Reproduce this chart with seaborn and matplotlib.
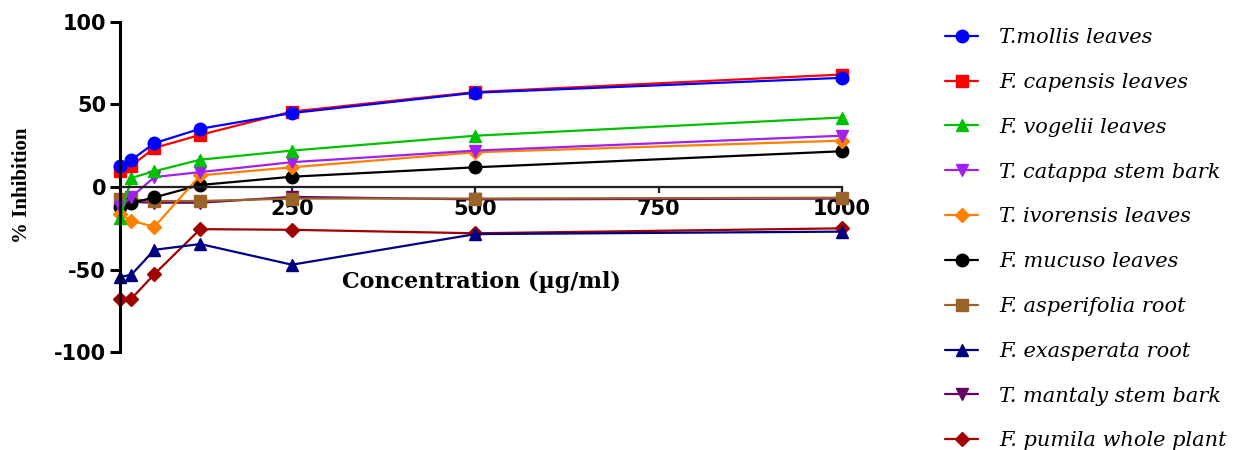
import numpy as np
import pandas as pd
import seaborn as sns
import matplotlib.pyplot as plt

# concentrations (ug/ml)
conc = [15.625, 31.25, 62.5, 125, 250, 500, 1000]

names = [
    "T.mollis leaves",
    "F. capensis leaves",
    "F. vogelii leaves",
    "T. catappa stem bark",
    "T. ivorensis leaves",
    "F. mucuso leaves",
    "F. asperifolia root",
    "F. exasperata root",
    "T. mantaly stem bark",
    "F. pumila whole plant",
]

mollis = [12.5, 16.4, 26.5, 35.2, 44.7, 57.0, 66.0]
capensis = [9.9, 12.9, 23.6, 31.5, 45.6, 57.4, 68.0]
vogelii = [-19.0, 5.5, 9.5, 16.5, 22.0, 31.0, 42.0]
catappa = [-12.0, -6.0, 6.0, 9.0, 15.0, 22.0, 31.0]
ivorensis = [-16.4, -20.4, -24.1, 7.0, 11.9, 21.0, 28.0]
mucuso = [-12.3, -9.7, -6.3, 1.2, 6.2, 11.9, 21.6]
asperifolia = [-7.0, -7.5, -8.5, -8.5, -7.0, -7.0, -6.5]
exasperata = [-54.5, -53.0, -38.0, -34.5, -47.0, -28.5, -27.0]
mantaly = [-8.0, -9.0, -9.5, -9.5, -6.0, -7.5, -7.0]
pumila = [-67.9, -67.5, -52.7, -25.5, -25.9, -28.0, -25.0]

values = [mollis, capensis, vogelii, catappa, ivorensis,
          mucuso, asperifolia, exasperata, mantaly, pumila]

colors = ["#0000ff", "#ff0000", "#00c000", "#a020f0", "#ff8000",
          "#000000", "#99632a", "#000080", "#660066", "#a00000"]
markers = ["o", "s", "^", "v", "D", "o", "s", "^", "v", "D"]
msizes = [9, 9, 9, 9, 7, 9, 9, 9, 9, 7]

df = pd.DataFrame({
    "conc": np.tile(conc, len(names)),
    "val": np.concatenate(values),
    "name": np.repeat(names, len(conc)),
})

sns.set_style("white")
plt.rcParams["axes.unicode_minus"] = False
plt.rcParams["text.color"] = "black"
fig = plt.figure(figsize=(12.58, 4.5), dpi=100)
ax = fig.add_axes([0.0954, 0.217, 0.5739, 0.735])

# last series drawn first so the first ones sit on top
for i in reversed(range(len(names))):
    sub = df[df["name"] == names[i]]
    sns.lineplot(data=sub, x="conc", y="val", ax=ax, color=colors[i],
                 marker=markers[i], markersize=msizes[i],
                 markeredgecolor=colors[i], markeredgewidth=1,
                 linewidth=1.6, label=names[i], clip_on=False)

ax.set_xlim(15.625, 1000)
ax.set_ylim(-100, 100)
ax.set_xticks([250, 500, 750, 1000])
ax.set_yticks([-100, -50, 0, 50, 100])
ax.set_xlabel("")
ax.set_ylabel("")

ax.spines["right"].set_visible(False)
ax.spines["top"].set_visible(False)
ax.spines["bottom"].set_position(("data", 0))
ax.spines["bottom"].set_color("#202020")
ax.spines["bottom"].set_linewidth(1.6)
ax.spines["left"].set_color("black")
ax.spines["left"].set_linewidth(2.2)

ax.tick_params(axis="y", direction="out", length=7, width=2.2, pad=3,
               left=True, labelcolor="black", color="black")
ax.tick_params(axis="x", direction="out", length=4, width=1.6, pad=5,
               bottom=True, color="#202020", labelcolor="black")
for lab in ax.get_xticklabels() + ax.get_yticklabels():
    lab.set_fontfamily("DejaVu Sans")
    lab.set_fontweight("bold")
    lab.set_fontsize(15)

fig.text(22 / 1258, 1 - 185 / 450, "% Inhibition", rotation=90,
         ha="center", va="center", family="Liberation Serif",
         fontweight="bold", fontsize=15, color="black")
fig.text(481 / 1258, 1 - 282 / 450, "Concentration (\u00b5g/ml)",
         ha="center", va="center", family="DejaVu Serif",
         fontweight="bold", fontsize=16, color="black")

handles, labels = ax.get_legend_handles_labels()
ax.get_legend().remove()
handles = handles[::-1]
labels = labels[::-1]
fig.legend(handles, labels, loc="upper left",
           bbox_to_anchor=(945 / 1258, 1 - 28 / 450),
           frameon=False, borderaxespad=0, borderpad=0,
           handlelength=1.6, handletextpad=1.0, labelspacing=1.24,
           prop={"family": "DejaVu Serif", "style": "italic", "size": 15})

fig.savefig("out.png", dpi=100)
